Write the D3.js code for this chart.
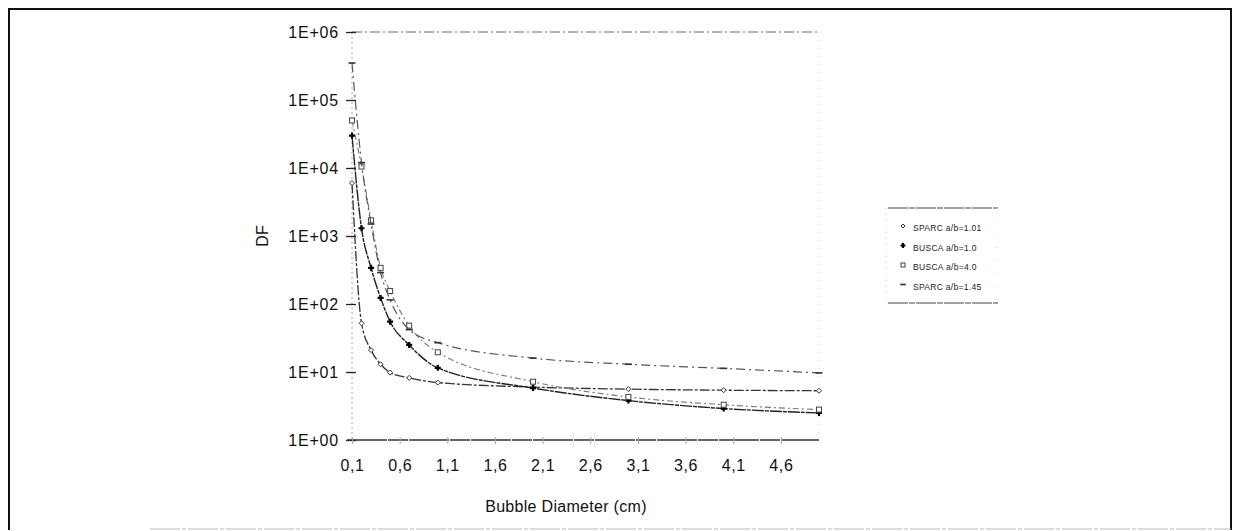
<!DOCTYPE html>
<html>
<head>
<meta charset="utf-8">
<script src="https://cdn.jsdelivr.net/npm/d3@7/dist/d3.min.js"></script>
<style>
  html, body { margin: 0; padding: 0; background: #fff; }
  svg { display: block; font-family: "Liberation Sans", Arial, sans-serif; }
</style>
</head>
<body>
<svg id="chart" width="1239" height="531"></svg>
<script>
// ---- data ----
const xValues = [0.1, 0.2, 0.3, 0.4, 0.5, 0.7, 1.0, 2.0, 3.0, 4.0, 5.0];
const sparc101 = [6000, 52, 21, 13, 9.8, 8.2, 7, 6, 5.6, 5.4, 5.3];
const busca10  = [30000, 1300, 340, 123, 55, 25, 11.5, 5.8, 3.8, 2.9, 2.5];
const busca40  = [50000, 10500, 1700, 340, 155, 48, 19.5, 7.2, 4.3, 3.3, 2.8];
const sparc145 = [350000, 12000, 1500, 290, 115, 42, 27, 16, 13, 11.3, 9.7];
const seriesNames = ["SPARC a/b=1.01", "BUSCA a/b=1.0", "BUSCA a/b=4.0", "SPARC a/b=1.45"];
const xTickValues = [0.1, 0.6, 1.1, 1.6, 2.1, 2.6, 3.1, 3.6, 4.1, 4.6];
const xTickLabels = ["0,1", "0,6", "1,1", "1,6", "2,1", "2,6", "3,1", "3,6", "4,1", "4,6"];
const yTickValues = [1, 10, 100, 1000, 10000, 100000, 1000000];
const yTickLabels = ["1E+00", "1E+01", "1E+02", "1E+03", "1E+04", "1E+05", "1E+06"];
const xTitle = "Bubble Diameter (cm)";
const yTitle = "DF";

// ---- build ----
const svg = d3.select("#chart");
const x = d3.scaleLinear().domain([0.1, 5.0]).range([352, 819]);
const y = d3.scaleLog().domain([1, 1e6]).range([440, 32]);

// outer frame
svg.append("path").attr("d", "M9,530 L9,9 L1231,9 L1231,530")
  .attr("fill", "none").attr("stroke", "#111").attr("stroke-width", 2);
svg.append("line").attr("x1", 150).attr("x2", 1231).attr("y1", 529).attr("y2", 529)
  .attr("stroke", "#bbb").attr("stroke-width", 1).attr("stroke-dasharray", "30,2,4,2");

// plot frame: top dash-dot, right dotted, left dotted
svg.append("line").attr("x1", x(0.1)).attr("x2", x(5.0)).attr("y1", y(1e6)).attr("y2", y(1e6))
  .attr("stroke", "#666").attr("stroke-width", 1).attr("stroke-dasharray", "10,3,2,3");
svg.append("line").attr("x1", x(5.0)).attr("x2", x(5.0)).attr("y1", y(1e6)).attr("y2", y(1))
  .attr("stroke", "#ccc").attr("stroke-width", 1).attr("stroke-dasharray", "1,7");
svg.append("line").attr("x1", x(0.1)).attr("x2", x(0.1)).attr("y1", y(1e6)).attr("y2", y(1))
  .attr("stroke", "#aaa").attr("stroke-width", 1).attr("stroke-dasharray", "2,3");

// y axis ticks + labels
const yAxis = d3.axisLeft(y).tickValues(yTickValues)
  .tickFormat((d, i) => yTickLabels[i]).tickSizeInner(6).tickSizeOuter(0).tickPadding(9);
const gy = svg.append("g").attr("transform", `translate(${x(0.1) + 4},0)`).call(yAxis);
gy.select(".domain").remove();
gy.selectAll(".tick line").attr("stroke", "#222").attr("stroke-width", 1.3).attr("x2", -10);
gy.selectAll(".tick text").attr("font-size", 16).attr("fill", "#111")
  .attr("letter-spacing", "0.8px").attr("x", -17);

// x axis
const xAxis = d3.axisBottom(x).tickValues(xTickValues)
  .tickFormat((d, i) => xTickLabels[i]).tickSizeInner(4).tickSizeOuter(0).tickPadding(16);
const gx = svg.append("g").attr("transform", `translate(0,${y(1)})`).call(xAxis);
gx.select(".domain").attr("d", `M${x(0.1) - 5},0H${x(5.0)}`).attr("stroke", "#333")
  .attr("stroke-width", 1.4).attr("stroke-dasharray", "40,1,20,1");
gx.selectAll(".tick line").attr("stroke", "#aaa").attr("y1", -3).attr("y2", 4);
gx.selectAll(".tick text").attr("font-size", 16).attr("fill", "#111").attr("letter-spacing", "0.6px");

// titles
svg.append("text").attr("x", 566).attr("y", 512).attr("text-anchor", "middle")
  .attr("font-size", 16).attr("fill", "#111").attr("letter-spacing", "0.3px").text(xTitle);
svg.append("text").attr("transform", "translate(268,236) rotate(-90)").attr("text-anchor", "middle")
  .attr("font-size", 16).attr("fill", "#111").text(yTitle);

// series
const allSeries = [sparc101, busca10, busca40, sparc145];
const lineStyles = [
  { stroke: "#333", dash: "10,2,3,2", width: 1.3 },
  { stroke: "#222", dash: "12,1,4,1", width: 1.4 },
  { stroke: "#777", dash: "6,3,2,3", width: 1.1 },
  { stroke: "#555", dash: "9,4,2,4", width: 1.2 }
];
const line = d3.line().x(d => x(d[0])).y(d => y(d[1])).curve(d3.curveMonotoneX);

allSeries.forEach((vals, si) => {
  const pts = xValues.map((xv, i) => [xv, vals[i]]);
  const st = lineStyles[si];
  svg.append("path").datum(pts).attr("d", line).attr("fill", "none")
    .attr("stroke", st.stroke).attr("stroke-width", st.width).attr("stroke-dasharray", st.dash);
  const g = svg.append("g");
  pts.forEach(p => drawMarker(g, si, x(p[0]), y(p[1]), 1));
});

function drawMarker(g, si, cx, cy, s) {
  if (si === 0) {
    g.append("path").attr("d", `M${cx},${cy - 2.5 * s}L${cx + 2.5 * s},${cy}L${cx},${cy + 2.5 * s}L${cx - 2.5 * s},${cy}Z`)
      .attr("fill", "#fff").attr("stroke", "#333").attr("stroke-width", 1);
  } else if (si === 1) {
    g.append("path").attr("d", `M${cx - 3 * s},${cy}H${cx + 3 * s}M${cx},${cy - 3 * s}V${cy + 3 * s}`)
      .attr("stroke", "#000").attr("stroke-width", 2.2);
  } else if (si === 2) {
    g.append("rect").attr("x", cx - 2.5 * s).attr("y", cy - 2.5 * s).attr("width", 5 * s).attr("height", 5 * s)
      .attr("fill", "#fff").attr("stroke", "#444").attr("stroke-width", 1);
  } else {
    g.append("line").attr("x1", cx - 3.5 * s).attr("x2", cx + 3.5 * s).attr("y1", cy).attr("y2", cy)
      .attr("stroke", "#333").attr("stroke-width", 1.6);
  }
}

// legend
const lg = svg.append("g");
lg.append("line").attr("x1", 888).attr("x2", 998).attr("y1", 208).attr("y2", 208)
  .attr("stroke", "#444").attr("stroke-width", 1.2).attr("stroke-dasharray", "20,1,6,1");
lg.append("line").attr("x1", 888).attr("x2", 998).attr("y1", 303).attr("y2", 303)
  .attr("stroke", "#444").attr("stroke-width", 1.2).attr("stroke-dasharray", "20,1,6,1");
lg.append("line").attr("x1", 886).attr("x2", 886).attr("y1", 208).attr("y2", 303)
  .attr("stroke", "#ccc").attr("stroke-dasharray", "1,5");
lg.append("line").attr("x1", 997).attr("x2", 997).attr("y1", 208).attr("y2", 303)
  .attr("stroke", "#ccc").attr("stroke-dasharray", "1,12");
seriesNames.forEach((name, i) => {
  const ly = 229 + i * 19.5;
  drawMarker(lg, i, 903, ly - 3, 0.8);
  lg.append("text").attr("x", 913).attr("y", ly + 2).attr("font-size", 8.5)
    .attr("fill", "#222").attr("letter-spacing", "0.3px").text(name);
});
</script>
</body>
</html>
